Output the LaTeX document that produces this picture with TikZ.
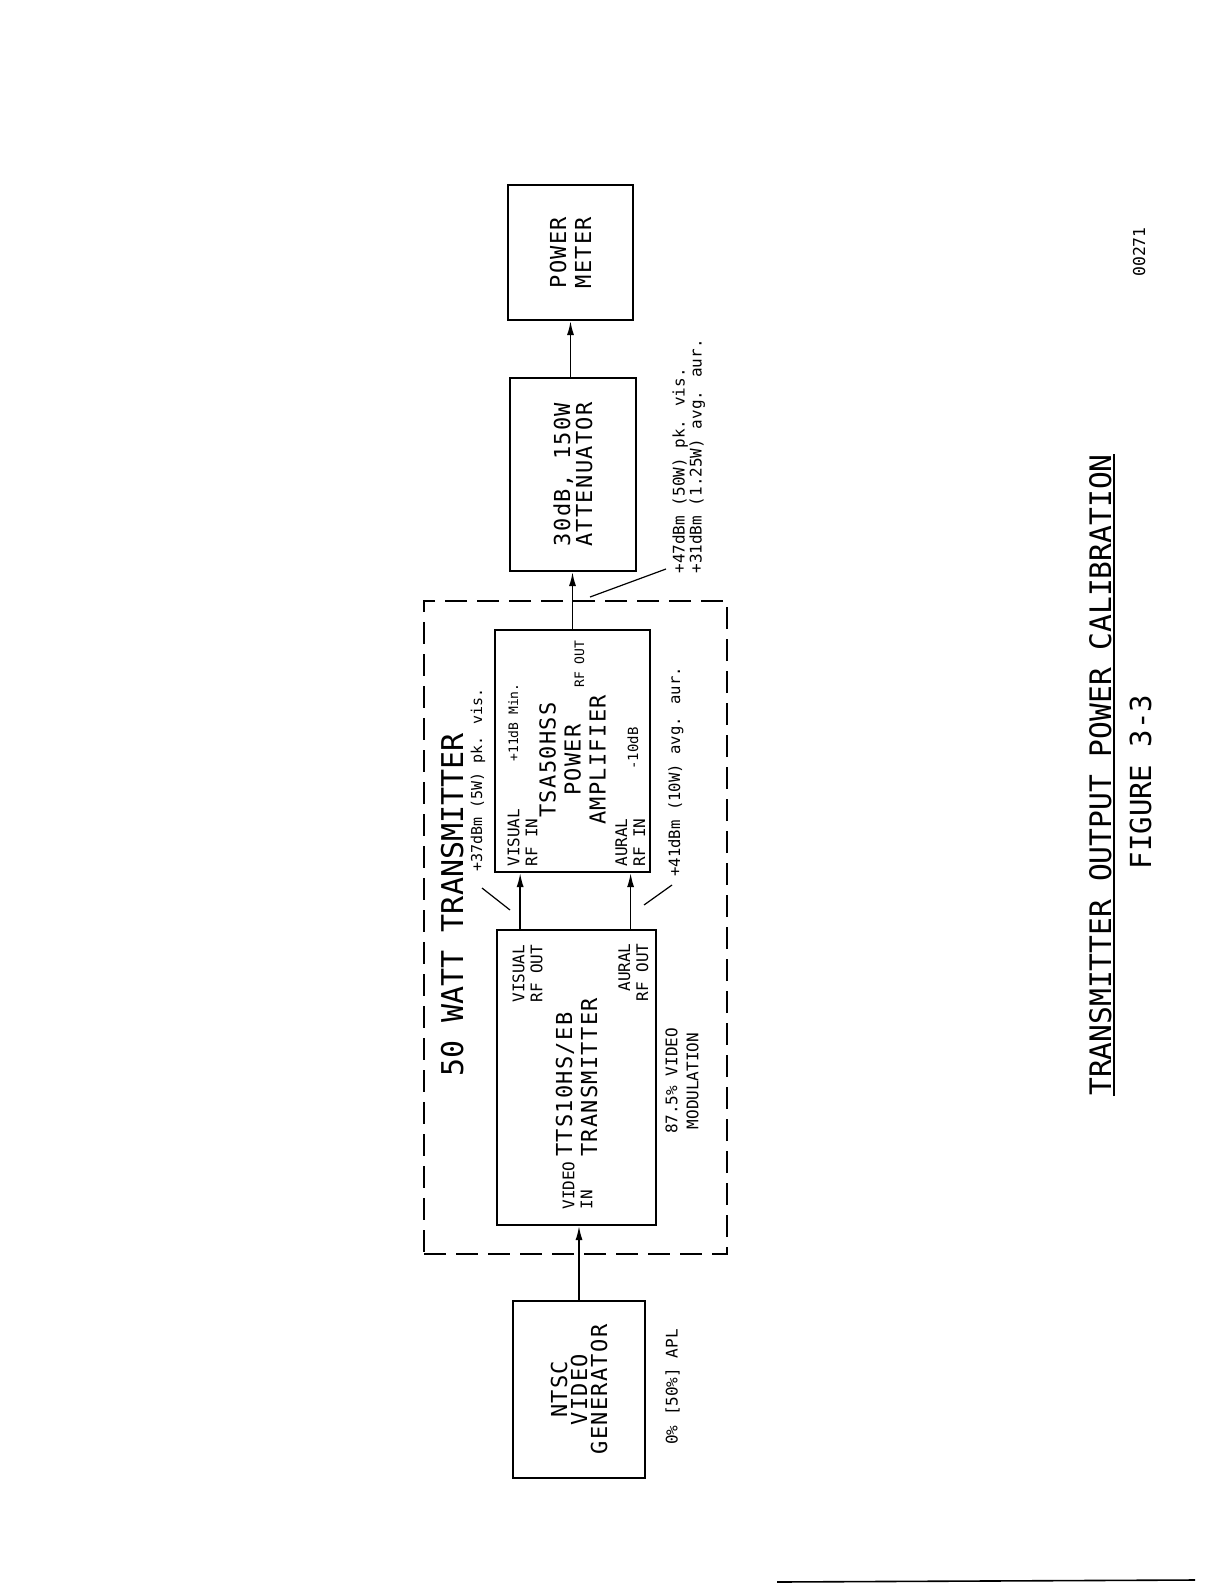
\documentclass[tikz,border=0pt]{standalone}
\usepackage{fontspec}
\setmainfont{DejaVu Sans Mono}
\newfontfamily\unitfont{DejaVu Sans Mono}[LetterSpace=6]
\usetikzlibrary{arrows.meta, calc, fit, backgrounds}
\tikzstyle{arrow} = [line width=0.8pt, -{Latex[length=7pt,width=3.5pt]}]

\begin{document}
\begin{tikzpicture}[x=0.5pt, y=-0.5pt,
    block/.style={rectangle, draw, line width=1pt, rotate=90, align=center, inner sep=0pt, font=\unitfont\fontsize{11}{12.5}\selectfont},
    blocktext/.style={rotate=90, align=center, inner sep=0pt, font=\unitfont\fontsize{11}{12.5}\selectfont},
    tag/.style={rotate=90, inner sep=0pt, align=left, font=\fontsize{8}{9}\selectfont},
    note/.style={rotate=90, inner sep=0pt, font=\fontsize{8}{8}\selectfont},
    leader/.style={line width=0.6pt},
    group/.style={draw, line width=0.8pt, dash pattern=on 11pt off 5pt, inner xsep=35pt, inner ysep=14pt}
]
    \useasboundingbox (0,0) rectangle (1224,1584);

    % Chain of units, bottom to top
    \node[block, minimum width=88.5pt, minimum height=66pt, font=\unitfont\fontsize{11}{10}\selectfont] (ntsc) at (579,1389.5) {NTSC\\VIDEO\\GENERATOR};
    \node[block, minimum width=147.5pt, minimum height=79.5pt, align=left] (tx) at (576.5,1077.5) {TTS10HS/EB\\TRANSMITTER};
    \node[block, minimum width=121pt, minimum height=77.5pt] (pa) at (572.5,751) {};
    \node[blocktext] (paname) at (572.5,760) {TSA50HSS\\POWER\\AMPLIFIER};
    \node[block, minimum width=96.5pt, minimum height=63pt, font=\unitfont\fontsize{11}{11}\selectfont] (att) at (573,474.5) {30dB, 150W\\ATTENUATOR};
    \node[block, minimum width=67.5pt, minimum height=62.5pt] (pm) at (570.5,252.5) {POWER\\METER};

    % Port names inside the units
    \node[tag, anchor=north west] (txvis) at (512,1003) {VISUAL\\RF OUT};
    \node[tag, anchor=north east, align=right] (txaur) at (618,943) {AURAL\\RF OUT};
    \node[tag, anchor=north west] (txvid) at (562,1210) {VIDEO\\IN};
    \node[tag, anchor=north west] (pavis) at (507,867) {VISUAL\\RF IN};
    \node[tag, anchor=north west] (paaur) at (615,867) {AURAL\\RF IN};
    \node[note, anchor=base west, font=\fontsize{6.5}{7}\selectfont] (pagain) at (518,762) {+11dB Min.};
    \node[note, anchor=base west, font=\fontsize{7}{7}\selectfont] (paloss) at (638,770) {-10dB};
    \node[note, anchor=base west, font=\fontsize{6.5}{7}\selectfont] (paout) at (584,688) {RF OUT};

    % Notes under the units
    \node[note, anchor=north, align=center, font=\fontsize{8}{10.5}\selectfont] (txmod) at (665,1081) {87.5\% VIDEO\\MODULATION};
    \node[note, anchor=north] (ntscapl) at (665,1387) {0\% [50\%] APL};

    % Signal levels
    \node[note, anchor=base west, font=\fontsize{7.5}{8}\selectfont] (vislevel) at (482,872) {+37dBm (5W) pk. vis.};
    \node[note, anchor=base west, font=\fontsize{7.8}{8}\selectfont] (aurlevel) at (680,877) {+41dBm (10W) avg. aur.};
    \node[tag, anchor=north west, font=\fontsize{8}{8.5}\selectfont] (outlevel) at (672,574) {+47dBm (50W) pk. vis.\\+31dBm (1.25W) avg. aur.};

    % 50 W transmitter boundary
    \begin{scope}[on background layer]
        \node[group, fit=(pa)(tx)] (xmtr) {};
    \end{scope}
    \node[rotate=90, inner sep=0pt, anchor=base, font=\fontsize{15}{15}\selectfont] (xmtrlabel) at (463,905) {50 WATT TRANSMITTER};

    % Signal path
    \coordinate (visout) at ($(tx.north east)!0.15!(tx.south east)$);
    \coordinate (aurout) at ($(tx.north east)!0.836!(tx.south east)$);
    \draw[arrow] (ntsc.east) -- (ntsc.east |- tx.west);
    \draw[arrow] (visout) -- (visout |- pa.west);
    \draw[arrow] (aurout) -- (aurout |- pa.west);
    \draw[arrow] (pa.east) -- (pa.east |- att.west);
    \draw[arrow] (pm.west |- att.east) -- (pm.west);

    % Leader lines to the levels
    \coordinate (visfrom) at (482,888);
    \coordinate (visto) at (510,910);
    \coordinate (aurfrom) at (672,885);
    \coordinate (aurto) at (644,905);
    \coordinate (outfrom) at (666,569);
    \coordinate (outto) at (590,597);
    \draw[leader] (visfrom) -- (visto);
    \draw[leader] (aurfrom) -- (aurto);
    \draw[leader] (outfrom) -- (outto);

    % Caption
    \node[rotate=90, inner sep=0pt, anchor=base, font=\fontsize{14.8}{15}\selectfont] (title) at (1111,775) {TRANSMITTER OUTPUT POWER CALIBRATION};
    \draw[line width=0.8pt] ([xshift=1.5pt]title.base west) -- ([xshift=1.5pt]title.base east);
    \node[rotate=90, inner sep=0pt, anchor=base, font=\fontsize{14.5}{15}\selectfont] (figno) at (1151,782) {FIGURE 3-3};
    \node[note, anchor=base, font=\fontsize{8.2}{9}\selectfont] (docno) at (1145,252) {00271};

    % page edge
    \draw[line width=0.8pt] (777,1582) -- (1195,1580);
\end{tikzpicture}
\end{document}
